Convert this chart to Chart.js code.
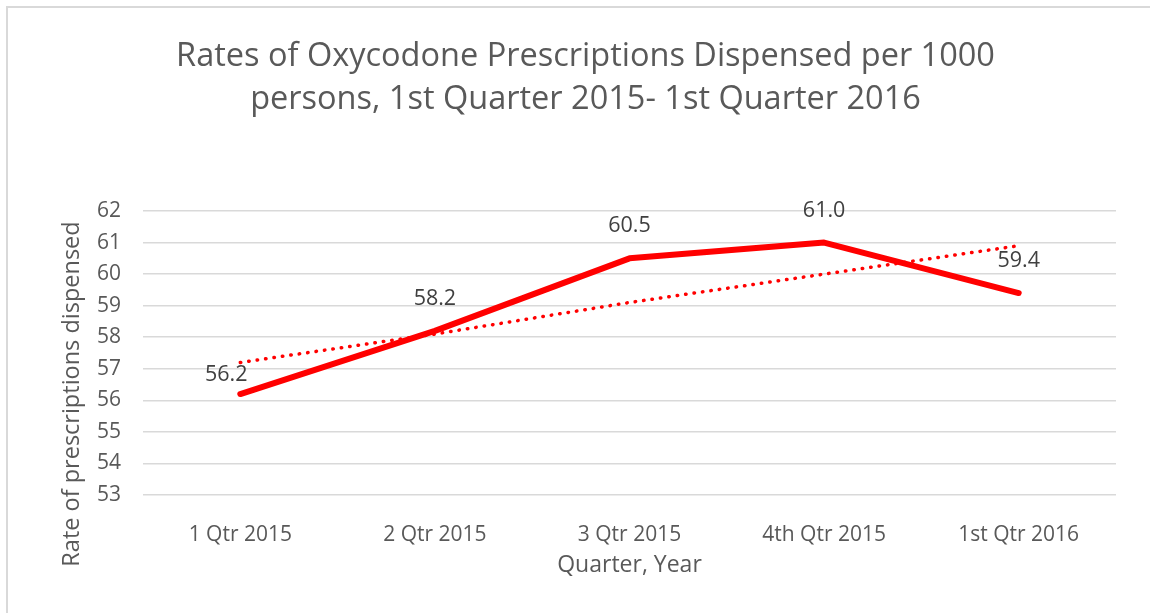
<!DOCTYPE html>
<html>
<head>
<meta charset="utf-8">
<script src="https://cdn.jsdelivr.net/npm/chart.js@4"></script>
<style>
  html, body { margin: 0; padding: 0; background: #fff; overflow: hidden; }
  #frame { position: absolute; left: 6px; top: 6px; width: 1200px; height: 700px; border: 2px solid #d9d9d9; }
  canvas { position: absolute; left: 0; top: 0; }
</style>
</head>
<body>
<div id="frame"></div>
<canvas id="chart" width="1150" height="613"></canvas>
<script>
// values
const quarters = ['1 Qtr 2015', '2 Qtr 2015', '3 Qtr 2015', '4th Qtr 2015', '1st Qtr 2016'];
const rates = [56.2, 58.2, 60.5, 61.0, 59.4];
const trend = [57.2, 58.1, 59.1, 60.0, 60.9];
const yTitle = 'Rate of prescriptions dispensed';

const FONT = "'Open Sans', 'DejaVu Sans', sans-serif";
const GREY = '#595959';

// Excel-style data labels above each point (first one nudged by hand in the original)
const valueLabels = {
    id: 'valueLabels',
    afterDatasetsDraw(chart, args, opts) {
        const meta = chart.getDatasetMeta(0);
        const ctx = chart.ctx;
        ctx.save();
        ctx.font = '21.5px ' + FONT;
        ctx.fillStyle = '#404040';
        ctx.textAlign = 'center';
        ctx.textBaseline = 'middle';
        meta.data.forEach((pt, i) => {
            const shift = opts.shift[i] || [0, 0];
            ctx.fillText(rates[i].toFixed(1), pt.x + shift[0], pt.y - 32 + shift[1]);
        });
        ctx.restore();
    }
};

// y title is centred on the whole chart in the original, not on the plot area
const sideTitle = {
    id: 'sideTitle',
    afterDraw(chart) {
        const ctx = chart.ctx;
        ctx.save();
        ctx.translate(72, 394);
        ctx.rotate(-Math.PI / 2);
        ctx.font = '23.5px ' + FONT;
        ctx.fillStyle = GREY;
        ctx.textAlign = 'center';
        ctx.textBaseline = 'middle';
        ctx.fillText(yTitle, 0, 0);
        ctx.restore();
    }
};

new Chart(document.getElementById('chart'), {
    type: 'line',
    data: {
        labels: quarters,
        datasets: [
            {
                data: rates,
                borderColor: '#ff0000',
                borderWidth: 6,
                borderCapStyle: 'round',
                borderJoinStyle: 'round',
                pointRadius: 0,
                tension: 0
            },
            {
                data: trend,
                borderColor: '#ff0000',
                borderWidth: 3.5,
                borderDash: [0.5, 8],
                borderCapStyle: 'round',
                pointRadius: 0,
                tension: 0
            }
        ]
    },
    options: {
        responsive: false,
        animation: false,
        devicePixelRatio: 1,
        layout: { padding: { left: 55, right: 34, top: 0, bottom: 30 } },
        plugins: {
            legend: { display: false },
            tooltip: { enabled: false },
            title: {
                display: true,
                text: ['Rates of Oxycodone Prescriptions Dispensed per 1000', 'persons, 1st Quarter 2015- 1st Quarter 2016'],
                color: GREY,
                font: { family: FONT, size: 32.5, weight: 'normal', lineHeight: 1.32 },
                padding: { top: 35.5, bottom: 89.7 }
            },
            valueLabels: { shift: [[-14, 13]] }
        },
        scales: {
            x: {
                offset: true,
                grid: { display: false },
                border: { display: false },
                ticks: { color: GREY, font: { family: FONT, size: 21 }, padding: 19, maxRotation: 0 },
                title: {
                    display: true,
                    text: 'Quarter, Year',
                    color: GREY,
                    font: { family: FONT, size: 23 },
                    padding: { top: 4, bottom: 4 }
                },
                afterFit(scale) { scale.height = 88; }
            },
            y: {
                min: 53,
                max: 62,
                grid: { color: '#d9d9d9', lineWidth: 1.5, drawTicks: false },
                border: { display: false },
                ticks: { stepSize: 1, color: GREY, font: { family: FONT, size: 21 }, padding: 22 },
                afterFit(scale) { scale.width = 88; }
            }
        }
    },
    plugins: [valueLabels, sideTitle]
});
</script>
</body>
</html>
